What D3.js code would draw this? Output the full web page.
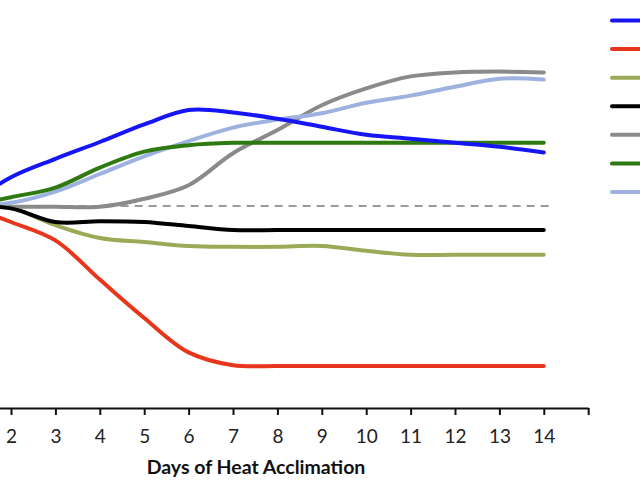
<!DOCTYPE html>
<html>
<head>
<meta charset="utf-8">
<script src="https://cdn.jsdelivr.net/npm/d3@7"></script>
<style>
  body { margin: 0; background: #fff; }
  svg { display: block; }
</style>
</head>
<body>
<svg id="chart"></svg>
<script>

// days of heat acclimation (day 1 sits just off the left edge)
var days = [1, 2, 3, 4, 5, 6, 7, 8, 9, 10, 11, 12, 13, 14];
var tickDays = [2, 3, 4, 5, 6, 7, 8, 9, 10, 11, 12, 13, 14, 15];

// % change from baseline
var blueVals   = [0, 3.6, 5.9, 8.0, 10.2, 12.0, 11.7, 10.9, 9.9, 8.9, 8.4, 7.9, 7.4, 6.7];
var redVals    = [0, -2.0, -4.3, -9.2, -14.0, -18.3, -19.9, -20, -20, -20, -20, -20, -20, -20];
var oliveVals  = [0, -0.3, -2.4, -4.0, -4.5, -5.0, -5.1, -5.1, -5.0, -5.6, -6.1, -6.1, -6.1, -6.1];
var blackVals  = [0, -0.3, -2.0, -1.9, -2.0, -2.5, -3.0, -3.0, -3.0, -3.0, -3.0, -3.0, -3.0, -3.0];
var grayVals   = [0, -0.1, -0.1, -0.1, 0.9, 2.6, 6.6, 9.5, 12.6, 14.7, 16.2, 16.7, 16.8, 16.7];
var greenVals  = [0, 1.1, 2.3, 4.8, 6.8, 7.6, 7.9, 7.9, 7.9, 7.9, 7.9, 7.9, 7.9, 7.9];
var lightVals  = [0, 0.4, 1.8, 4.0, 6.2, 8.1, 9.8, 10.8, 11.6, 12.9, 13.8, 14.9, 15.9, 15.8];

var seriesNames  = ['blue', 'red', 'olive', 'black', 'gray', 'green', 'light'];
var seriesColors = ['#1616f5', '#e8361c', '#9aab58', '#000000', '#8a8a8a', '#2e7a10', '#9db2de'];
var seriesVals   = [blueVals, redVals, oliveVals, blackVals, grayVals, greenVals, lightVals];

var width = 640, height = 480;
var axisY = 408;

var svg = d3.select('#chart').attr('width', width).attr('height', height);

var x = d3.scaleLinear().domain([1, 15]).range([-33.4, 588.2]);
var y = d3.scaleLinear().domain([-25.25, 25.75]).range([axisY, 0]);

// baseline (dashed)
svg.append('line')
  .attr('x1', x(1)).attr('x2', x(14.2))
  .attr('y1', y(0)).attr('y2', y(0))
  .attr('stroke', '#9a9a9a')
  .attr('stroke-width', 2)
  .attr('stroke-dasharray', '8,6');

var line = d3.line()
  .x(function(d, i){ return x(days[i]); })
  .y(function(d){ return y(d); })
  .curve(d3.curveCatmullRom.alpha(0.5));

// draw back to front so blue ends up on top like the picture
var drawOrder = [4, 6, 5, 2, 3, 1, 0];
drawOrder.forEach(function(k){
  svg.append('path')
    .datum(seriesVals[k])
    .attr('d', line)
    .attr('fill', 'none')
    .attr('stroke', seriesColors[k])
    .attr('stroke-width', 4)
    .attr('stroke-linecap', 'round');
});

// legend swatches (labels are outside the frame)
var legendY = d3.scalePoint().domain(seriesNames).range([20.5, 192]);
svg.selectAll('line.legend')
  .data(seriesNames)
  .join('line')
  .classed('legend', true)
  .attr('x1', 612).attr('x2', 650)
  .attr('y1', function(d){ return legendY(d); })
  .attr('y2', function(d){ return legendY(d); })
  .attr('stroke', function(d, i){ return seriesColors[i]; })
  .attr('stroke-width', 4)
  .attr('stroke-linecap', 'round');

// x axis
var xAxis = d3.axisBottom(x)
  .tickValues(tickDays)
  .tickSize(7)
  .tickSizeOuter(0)
  .tickFormat(function(d){ return d < 15 ? d : ''; });

var gx = svg.append('g')
  .attr('transform', 'translate(0,' + axisY + ')')
  .call(xAxis);

gx.select('.domain').attr('stroke', '#111').attr('stroke-width', 2);
gx.selectAll('.tick line').attr('stroke', '#111').attr('stroke-width', 2);
gx.selectAll('.tick text')
  .attr('y', 35)
  .attr('dy', null)
  .attr('fill', '#222')
  .style('font-family', 'Lato, "Open Sans", sans-serif')
  .style('font-size', '19px');

svg.append('text')
  .attr('x', 256)
  .attr('y', 474)
  .attr('text-anchor', 'middle')
  .style('font-family', 'Lato, "Open Sans", sans-serif')
  .style('font-weight', 'bold')
  .style('font-size', '19.5px')
  .attr('fill', '#111')
  .text('Days of Heat Acclimation');

</script>
</body>
</html>
